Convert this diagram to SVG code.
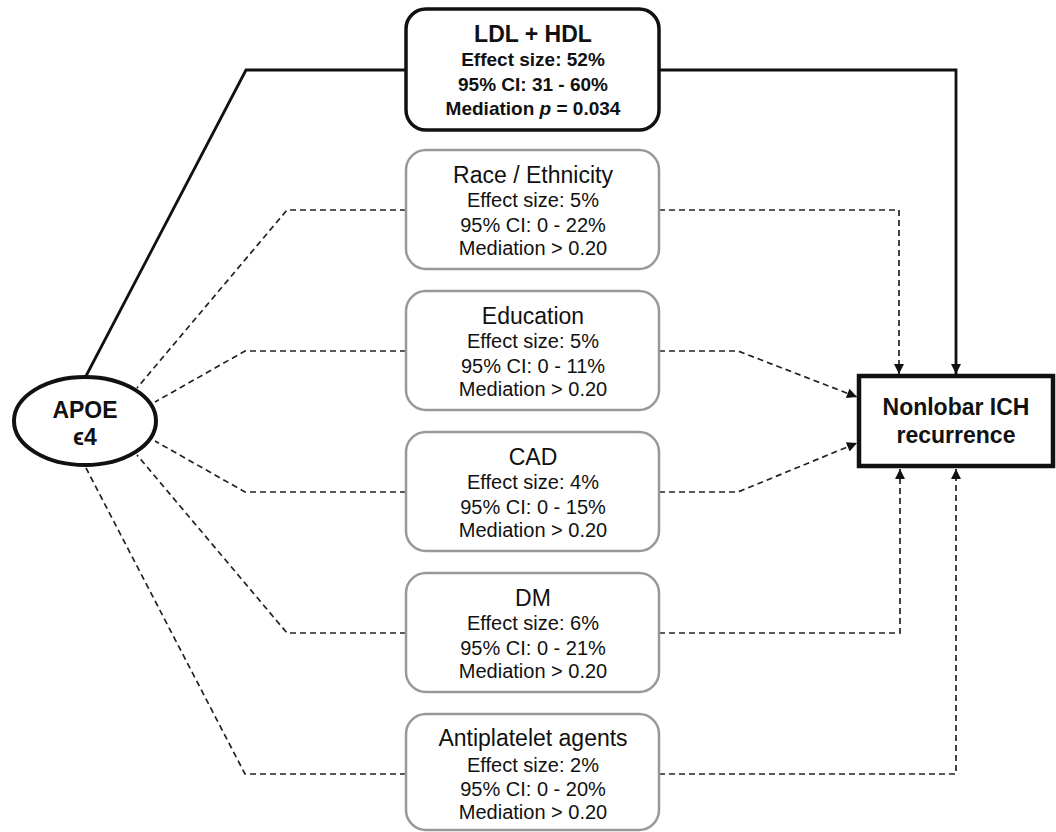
<svg xmlns="http://www.w3.org/2000/svg" width="1056" height="832" viewBox="0 0 1056 832">
<style>
  .t{font-family:"Liberation Sans",Arial,sans-serif;text-anchor:middle;fill:#111}
  .b{font-weight:bold}
  .ttl{font-size:23px}
  .bd{font-size:20px}
  .gbox{fill:#fff;stroke:#999;stroke-width:2.5}
  .solid{fill:none;stroke:#111;stroke-width:2.8}
  .dash{fill:none;stroke:#222;stroke-width:1.7;stroke-dasharray:6 4}
</style>
<defs>
  <marker id="arr" viewBox="0 0 10 10" refX="10" refY="5" markerWidth="12" markerHeight="10" markerUnits="userSpaceOnUse" orient="auto">
    <path d="M0,0 L10,5 L0,10 z" fill="#111"/>
  </marker>
</defs>
<rect width="1056" height="832" fill="#fff"/>
<g id="connectors">
  <path class="solid" d="M406 70 H246 L86 376"/>
  <path class="solid" d="M659 70 H956 V374" marker-end="url(#arr)"/>
  <path class="dash" d="M406 210 H287 L137 388"/>
  <path class="dash" d="M659 210 H899 V374" marker-end="url(#arr)"/>
  <path class="dash" d="M406 351 H245 L155 402"/>
  <path class="dash" d="M659 351 H738 L857 397" marker-end="url(#arr)"/>
  <path class="dash" d="M406 492 H245 L155 441"/>
  <path class="dash" d="M659 492 H738 L857 443" marker-end="url(#arr)"/>
  <path class="dash" d="M406 633 H287 L137 455"/>
  <path class="dash" d="M659 633 H900 V469" marker-end="url(#arr)"/>
  <path class="dash" d="M406 774 H245 L86 468"/>
  <path class="dash" d="M659 774 H956 V469" marker-end="url(#arr)"/>
</g>
<g id="apoe">
  <ellipse cx="85" cy="421" rx="71" ry="44" fill="#fff" stroke="#111" stroke-width="4"/>
  <text class="t b" font-size="23" x="85" y="418">APOE</text>
  <text class="t b" font-size="23" x="85" y="445">ϵ4</text>
</g>
<g id="ldl-hdl">
  <rect x="406" y="9" width="253" height="121" rx="20" fill="#fff" stroke="#111" stroke-width="3.5"/>
  <text class="t b" font-size="23" x="533" y="42">LDL + HDL</text>
  <text class="t b" font-size="19" x="533" y="66">Effect size: 52%</text>
  <text class="t b" font-size="19" x="533" y="91">95% CI: 31 - 60%</text>
  <text class="t b" font-size="19" x="533" y="115">Mediation <tspan font-style="italic">p</tspan> = 0.034</text>
</g>
<g id="race">
  <rect class="gbox" x="406" y="150" width="253" height="119" rx="20"/>
  <text class="t ttl" x="533" y="183">Race / Ethnicity</text>
  <text class="t bd" x="533" y="207">Effect size: 5%</text>
  <text class="t bd" x="533" y="232">95% CI: 0 - 22%</text>
  <text class="t bd" x="533" y="255">Mediation &gt; 0.20</text>
</g>
<g id="education">
  <rect class="gbox" x="406" y="291" width="253" height="119" rx="20"/>
  <text class="t ttl" x="533" y="324">Education</text>
  <text class="t bd" x="533" y="348">Effect size: 5%</text>
  <text class="t bd" x="533" y="373">95% CI: 0 - 11%</text>
  <text class="t bd" x="533" y="396">Mediation &gt; 0.20</text>
</g>
<g id="cad">
  <rect class="gbox" x="406" y="432" width="253" height="119" rx="20"/>
  <text class="t ttl" x="533" y="465">CAD</text>
  <text class="t bd" x="533" y="489">Effect size: 4%</text>
  <text class="t bd" x="533" y="514">95% CI: 0 - 15%</text>
  <text class="t bd" x="533" y="537">Mediation &gt; 0.20</text>
</g>
<g id="dm">
  <rect class="gbox" x="406" y="573" width="253" height="119" rx="20"/>
  <text class="t ttl" x="533" y="606">DM</text>
  <text class="t bd" x="533" y="630">Effect size: 6%</text>
  <text class="t bd" x="533" y="655">95% CI: 0 - 21%</text>
  <text class="t bd" x="533" y="678">Mediation &gt; 0.20</text>
</g>
<g id="antiplatelet">
  <rect class="gbox" x="406" y="714" width="253" height="116" rx="20"/>
  <text class="t ttl" x="533" y="746">Antiplatelet agents</text>
  <text class="t bd" x="533" y="772">Effect size: 2%</text>
  <text class="t bd" x="533" y="796">95% CI: 0 - 20%</text>
  <text class="t bd" x="533" y="819">Mediation &gt; 0.20</text>
</g>
<g id="nonlobar">
  <rect x="859" y="376" width="194" height="90" fill="#fff" stroke="#111" stroke-width="4.5"/>
  <text class="t b" font-size="23" x="956" y="415">Nonlobar ICH</text>
  <text class="t b" font-size="23" x="956" y="443">recurrence</text>
</g>
</svg>
